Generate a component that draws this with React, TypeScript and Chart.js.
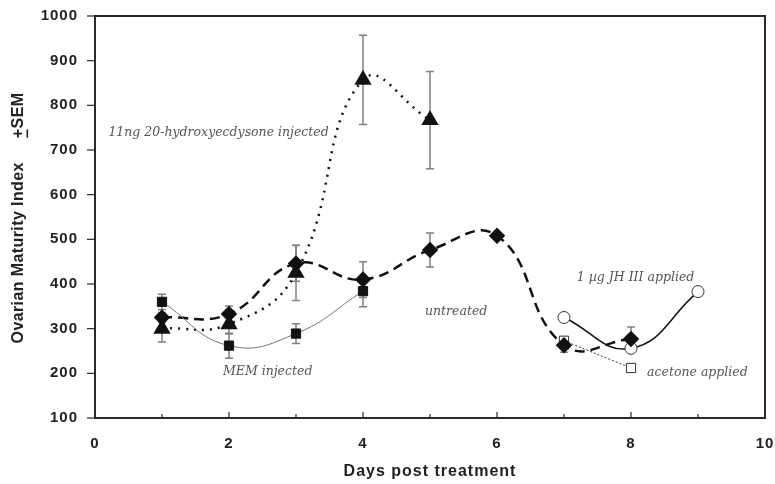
import React, { useEffect, useRef } from "react";
import { Chart, registerables } from "chart.js";
Chart.register(...registerables);

// Data
const memDays = [1, 2, 3, 4];
const memValues = [360, 262, 289, 384];
const memErr = [17, 28, 22, 35];

const hydroDays = [1, 2, 3, 4, 5];
const hydroValues = [300, 310, 425, 857, 767];
const hydroErr = [30, 22, 62, 100, 109];

const untreatedDays = [1, 2, 3, 4, 5, 6, 7, 8];
const untreatedValues = [325, 333, 446, 410, 476, 508, 263, 277];
const untreatedErr = [10, 18, 40, 40, 38, 0, 16, 27];

const jhDays = [7, 8, 9];
const jhValues = [325, 256, 383];

const acetoneDays = [7, 8];
const acetoneValues = [273, 212];

const xTicks = [0, 2, 4, 6, 8, 10];
const yTicks = [100, 200, 300, 400, 500, 600, 700, 800, 900, 1000];

const annotations = [
  { text: "11ng 20-hydroxyecdysone injected", day: 0.2, value: 738 },
  { text: "MEM injected", day: 1.91, value: 203 },
  { text: "untreated", day: 4.925, value: 338 },
  { text: "1 µg JH III applied", day: 7.19, value: 414 },
  { text: "acetone applied", day: 8.24, value: 201 },
];

const toPts = (xs: number[], ys: number[]) => xs.map((x, i) => ({ x, y: ys[i] }));

const errorSets: { days: number[]; values: number[]; err: number[] }[] = [
  { days: memDays, values: memValues, err: memErr },
  { days: hydroDays, values: hydroValues, err: hydroErr },
  { days: untreatedDays, values: untreatedValues, err: untreatedErr },
];

const decorPlugin = {
  id: "decor",
  beforeDraw(chart: any) {
    chart.ctx.letterSpacing = "1px";
  },
  beforeDatasetsDraw(chart: any) {
    const { ctx, scales } = chart;
    const xs = scales.x;
    const ys = scales.y;
    ctx.save();
    ctx.strokeStyle = "#808080";
    ctx.lineWidth = 1.5;
    errorSets.forEach((s) => {
      s.days.forEach((d, i) => {
        const e = s.err[i];
        if (!e) return;
        const px = xs.getPixelForValue(d);
        const top = ys.getPixelForValue(s.values[i] + e);
        const bot = ys.getPixelForValue(s.values[i] - e);
        ctx.beginPath();
        ctx.moveTo(px, top);
        ctx.lineTo(px, bot);
        ctx.moveTo(px - 4, top);
        ctx.lineTo(px + 4, top);
        ctx.moveTo(px - 4, bot);
        ctx.lineTo(px + 4, bot);
        ctx.stroke();
      });
    });
    ctx.restore();
  },
  afterDraw(chart: any) {
    const { ctx, chartArea, scales } = chart;
    const xs = scales.x;
    const ys = scales.y;
    const { left, right, top, bottom } = chartArea;
    ctx.save();
    ctx.letterSpacing = "0px";
    // frame
    ctx.strokeStyle = "#2a2a2a";
    ctx.lineWidth = 2;
    ctx.strokeRect(left, top, right - left, bottom - top);
    // y ticks (outward)
    ctx.lineWidth = 1.2;
    yTicks.forEach((v) => {
      const py = ys.getPixelForValue(v);
      ctx.beginPath();
      ctx.moveTo(left - 8, py);
      ctx.lineTo(left, py);
      ctx.stroke();
    });
    // x ticks (inward), every day
    for (let d = 1; d < 10; d++) {
      const px = xs.getPixelForValue(d);
      ctx.beginPath();
      ctx.moveTo(px, bottom);
      ctx.lineTo(px, bottom - (d % 2 === 0 ? 6 : 4));
      ctx.stroke();
    }
    // annotations
    ctx.fillStyle = "#555";
    ctx.font = "italic 12.5px 'DejaVu Serif'";
    ctx.textAlign = "left";
    ctx.textBaseline = "middle";
    annotations.forEach((a) => {
      ctx.fillText(a.text, xs.getPixelForValue(a.day), ys.getPixelForValue(a.value));
    });
    // x title
    ctx.fillStyle = "#222";
    ctx.letterSpacing = "1px";
    ctx.font = "bold 16px 'Liberation Sans'";
    ctx.textAlign = "center";
    ctx.fillText("Days post treatment", (left + right) / 2, 472);
    // y title (rotated), with underlined plus sign
    ctx.letterSpacing = "0.4px";
    ctx.font = "bold 16px 'Liberation Sans'";
    ctx.translate(19, (top + bottom) / 2 + 1);
    ctx.rotate(-Math.PI / 2);
    ctx.textAlign = "left";
    const part1 = "Ovarian Maturity Index";
    const w1 = ctx.measureText(part1).width;
    const gap = 24;
    const plusW = ctx.measureText("+").width;
    const semW = ctx.measureText("SEM").width;
    const total = w1 + gap + plusW + semW;
    let x0 = -total / 2;
    ctx.fillText(part1, x0, 0);
    x0 += w1 + gap;
    ctx.fillText("+", x0, 0);
    ctx.fillRect(x0 + 0.5, 7.5, plusW - 1.5, 1.6);
    ctx.fillText("SEM", x0 + plusW, 0);
    ctx.restore();
  },
};

export default function App() {
  const ref = useRef<HTMLCanvasElement | null>(null);
  useEffect(() => {
    if (!ref.current) return;
    const chart = new Chart(ref.current, {
      type: "line",
      data: {
        datasets: [
          {
            label: "MEM injected",
            data: toPts(memDays, memValues),
            borderColor: "#777",
            borderWidth: 1,
            tension: 0.45,
            pointStyle: "rect",
            pointRadius: 6.5,
            pointBackgroundColor: "#111",
            pointBorderColor: "#111",
          },
          {
            label: "11ng 20-hydroxyecdysone injected",
            data: toPts(hydroDays, hydroValues),
            borderColor: "#111",
            borderWidth: 2.5,
            borderDash: [2, 6],
            tension: 0.45,
            pointStyle: "triangle",
            pointRadius: 7.5,
            pointBackgroundColor: "#111",
            pointBorderColor: "#111",
          },
          {
            label: "untreated",
            data: toPts(untreatedDays, untreatedValues),
            borderColor: "#111",
            borderWidth: 2.5,
            borderDash: [10, 6],
            tension: 0.45,
            pointStyle: "rectRot",
            pointRadius: 6.5,
            pointBackgroundColor: "#111",
            pointBorderColor: "#111",
          },
          {
            label: "1 µg JH III applied",
            data: toPts(jhDays, jhValues),
            borderColor: "#111",
            borderWidth: 1.5,
            tension: 0.45,
            pointStyle: "circle",
            pointRadius: 6,
            pointBackgroundColor: "#fff",
            pointBorderColor: "#333",
            pointBorderWidth: 1,
          },
          {
            label: "acetone applied",
            data: toPts(acetoneDays, acetoneValues),
            borderColor: "#333",
            borderWidth: 1,
            borderDash: [2, 2],
            tension: 0.45,
            pointStyle: "rect",
            pointRadius: 6.5,
            pointBackgroundColor: "#fff",
            pointBorderColor: "#333",
            pointBorderWidth: 1,
          },
        ],
      },
      options: {
        responsive: false,
        animation: false,
        layout: { padding: { left: 0, top: 16, right: 0, bottom: 0 } },
        plugins: { legend: { display: false }, tooltip: { enabled: false } },
        scales: {
          x: {
            type: "linear",
            min: 0,
            max: 10,
            afterBuildTicks: (s: any) => {
              s.ticks = xTicks.map((v) => ({ value: v }));
            },
            ticks: {
              color: "#222",
              font: { family: "'Liberation Sans'", size: 15, weight: "bold" },
              padding: 17,
              maxRotation: 0,
              callback: (v: any) => String(v),
            },
            grid: { display: false, drawTicks: false },
            border: { display: false },
            afterFit: (s: any) => {
              s.height = 66;
              s.paddingRight = 10;
              s.paddingLeft = 0;
            },
          },
          y: {
            min: 100,
            max: 1000,
            afterBuildTicks: (s: any) => {
              s.ticks = yTicks.map((v) => ({ value: v }));
            },
            ticks: {
              color: "#222",
              font: { family: "'Liberation Sans'", size: 15, weight: "bold" },
              padding: 17,
              callback: (v: any) => String(v),
            },
            grid: { display: false, drawTicks: false },
            border: { display: false },
            afterFit: (s: any) => {
              s.width = 95;
              s.paddingTop = 0;
              s.paddingBottom = 0;
            },
          },
        },
      },
      plugins: [decorPlugin],
    });
    return () => chart.destroy();
  }, []);
  return (
    <div style={{ position: "absolute", left: 0, top: 0, width: 775, height: 484, background: "#fff" }}>
      <canvas ref={ref} width={775} height={484} />
    </div>
  );
}
